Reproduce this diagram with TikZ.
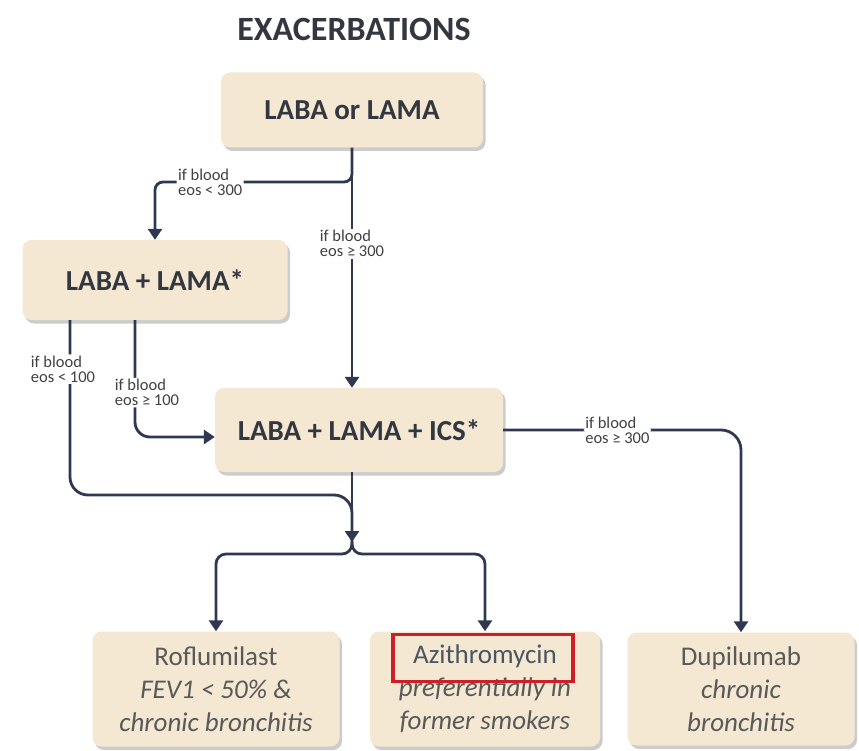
\documentclass[tikz,border=0pt]{standalone}
\usepackage{fontspec}
\setmainfont{Carlito}
\usetikzlibrary{arrows.meta,shadows}
\definecolor{navy}{HTML}{2E3850}
\definecolor{beige}{HTML}{F4E8D3}
\definecolor{ink}{HTML}{33373F}
\definecolor{slate}{HTML}{4A5562}
\definecolor{hired}{HTML}{D01E28}

\begin{document}
\begin{tikzpicture}[x=1pt,y=-1pt,
    box/.style={fill=beige, rounded corners=9pt, align=center,
      drop shadow={shadow xshift=2.5pt, shadow yshift=-3.5pt, fill=black!40}},
    drug/.style={box, font=\fontsize{29}{33}\selectfont\bfseries, text=ink},
    opt/.style={box, font=\fontsize{27}{33}\selectfont, text=black!65},
    line/.style={draw=navy, line width=2.8pt},
    arr/.style={line, -{Triangle[length=11pt,width=14pt]}},
    lbl/.style={fill=white, inner sep=1.5pt, align=left, text=black!75,
      font=\fontsize{16.5}{15}\selectfont}]

    \useasboundingbox (0,0) rectangle (859,751);

    % Title
    \node[font=\fontsize{34}{38}\selectfont\bfseries, text=ink] (title) at (354,29) {EXACERBATIONS};

    % Treatment steps
    \node[drug, minimum width=262pt, minimum height=75pt] (laba) at (352,110) {LABA or LAMA};
    \node[drug, minimum width=265pt, minimum height=80pt] (dual) at (155,280) {LABA + LAMA*};
    \node[drug, minimum width=288pt, minimum height=84pt] (triple) at (359,430) {LABA + LAMA + ICS*};

    % Add-on options
    \node[opt, minimum width=247pt, minimum height=115pt] (rof) at (216,689)
        {Roflumilast\\\textit{FEV1 < 50\% \&}\\\textit{chronic bronchitis}};
    \node[opt, minimum width=230pt, minimum height=115pt] (azi) at (485,689)
        {\textcolor{slate}{Azithromycin}\\\textit{preferentially in}\\\textit{former smokers}};
    \node[opt, minimum width=227pt, minimum height=113pt] (dupi) at (741,689)
        {Dupilumab\\\textit{chronic}\\\textit{bronchitis}};
    \node[draw=hired, line width=3.6pt, minimum width=180pt, minimum height=47pt] (azimark) at (483,658) {};

    % Branch points
    \coordinate (j1) at (352,182);
    \coordinate (m1) at (352,495);
    \coordinate (m2) at (352,542);
    \coordinate (m3) at (352,554);

    % Connectors
    \draw[arr] (laba.south) -- (laba.south |- triple.north)
        node[lbl, pos=0.4] (lhigh) {if blood\\eos ≥ 300};
    \draw[arr, rounded corners=8pt] (laba.south) -- (j1) -| (dual.north)
        node[lbl, pos=0.36] (llow) {if blood\\eos < 300};
    \draw[line, rounded corners=18pt] ([xshift=-85pt]dual.south)
        |- node[lbl, pos=0.14, xshift=-7pt] (lless) {if blood\\eos < 100} (m1) -- (m2);
    \draw[arr, rounded corners=15pt] ([xshift=-20pt]dual.south)
        |- node[lbl, pos=0.31, xshift=12pt] (lmore) {if blood\\eos ≥ 100} ([yshift=-7pt]triple.west);
    \draw[arr] (m1 |- triple.south) -- (m2);
    \draw[arr, rounded corners=10pt] (m2) -- (m3) -| (rof.north);
    \draw[arr, rounded corners=10pt] (m2) -- (m3) -| (azi.north);
    \draw[arr, rounded corners=20pt] (triple.east)
        -| node[lbl, pos=0.24] (lbio) {if blood\\eos ≥ 300} (dupi.north);
\end{tikzpicture}
\end{document}
